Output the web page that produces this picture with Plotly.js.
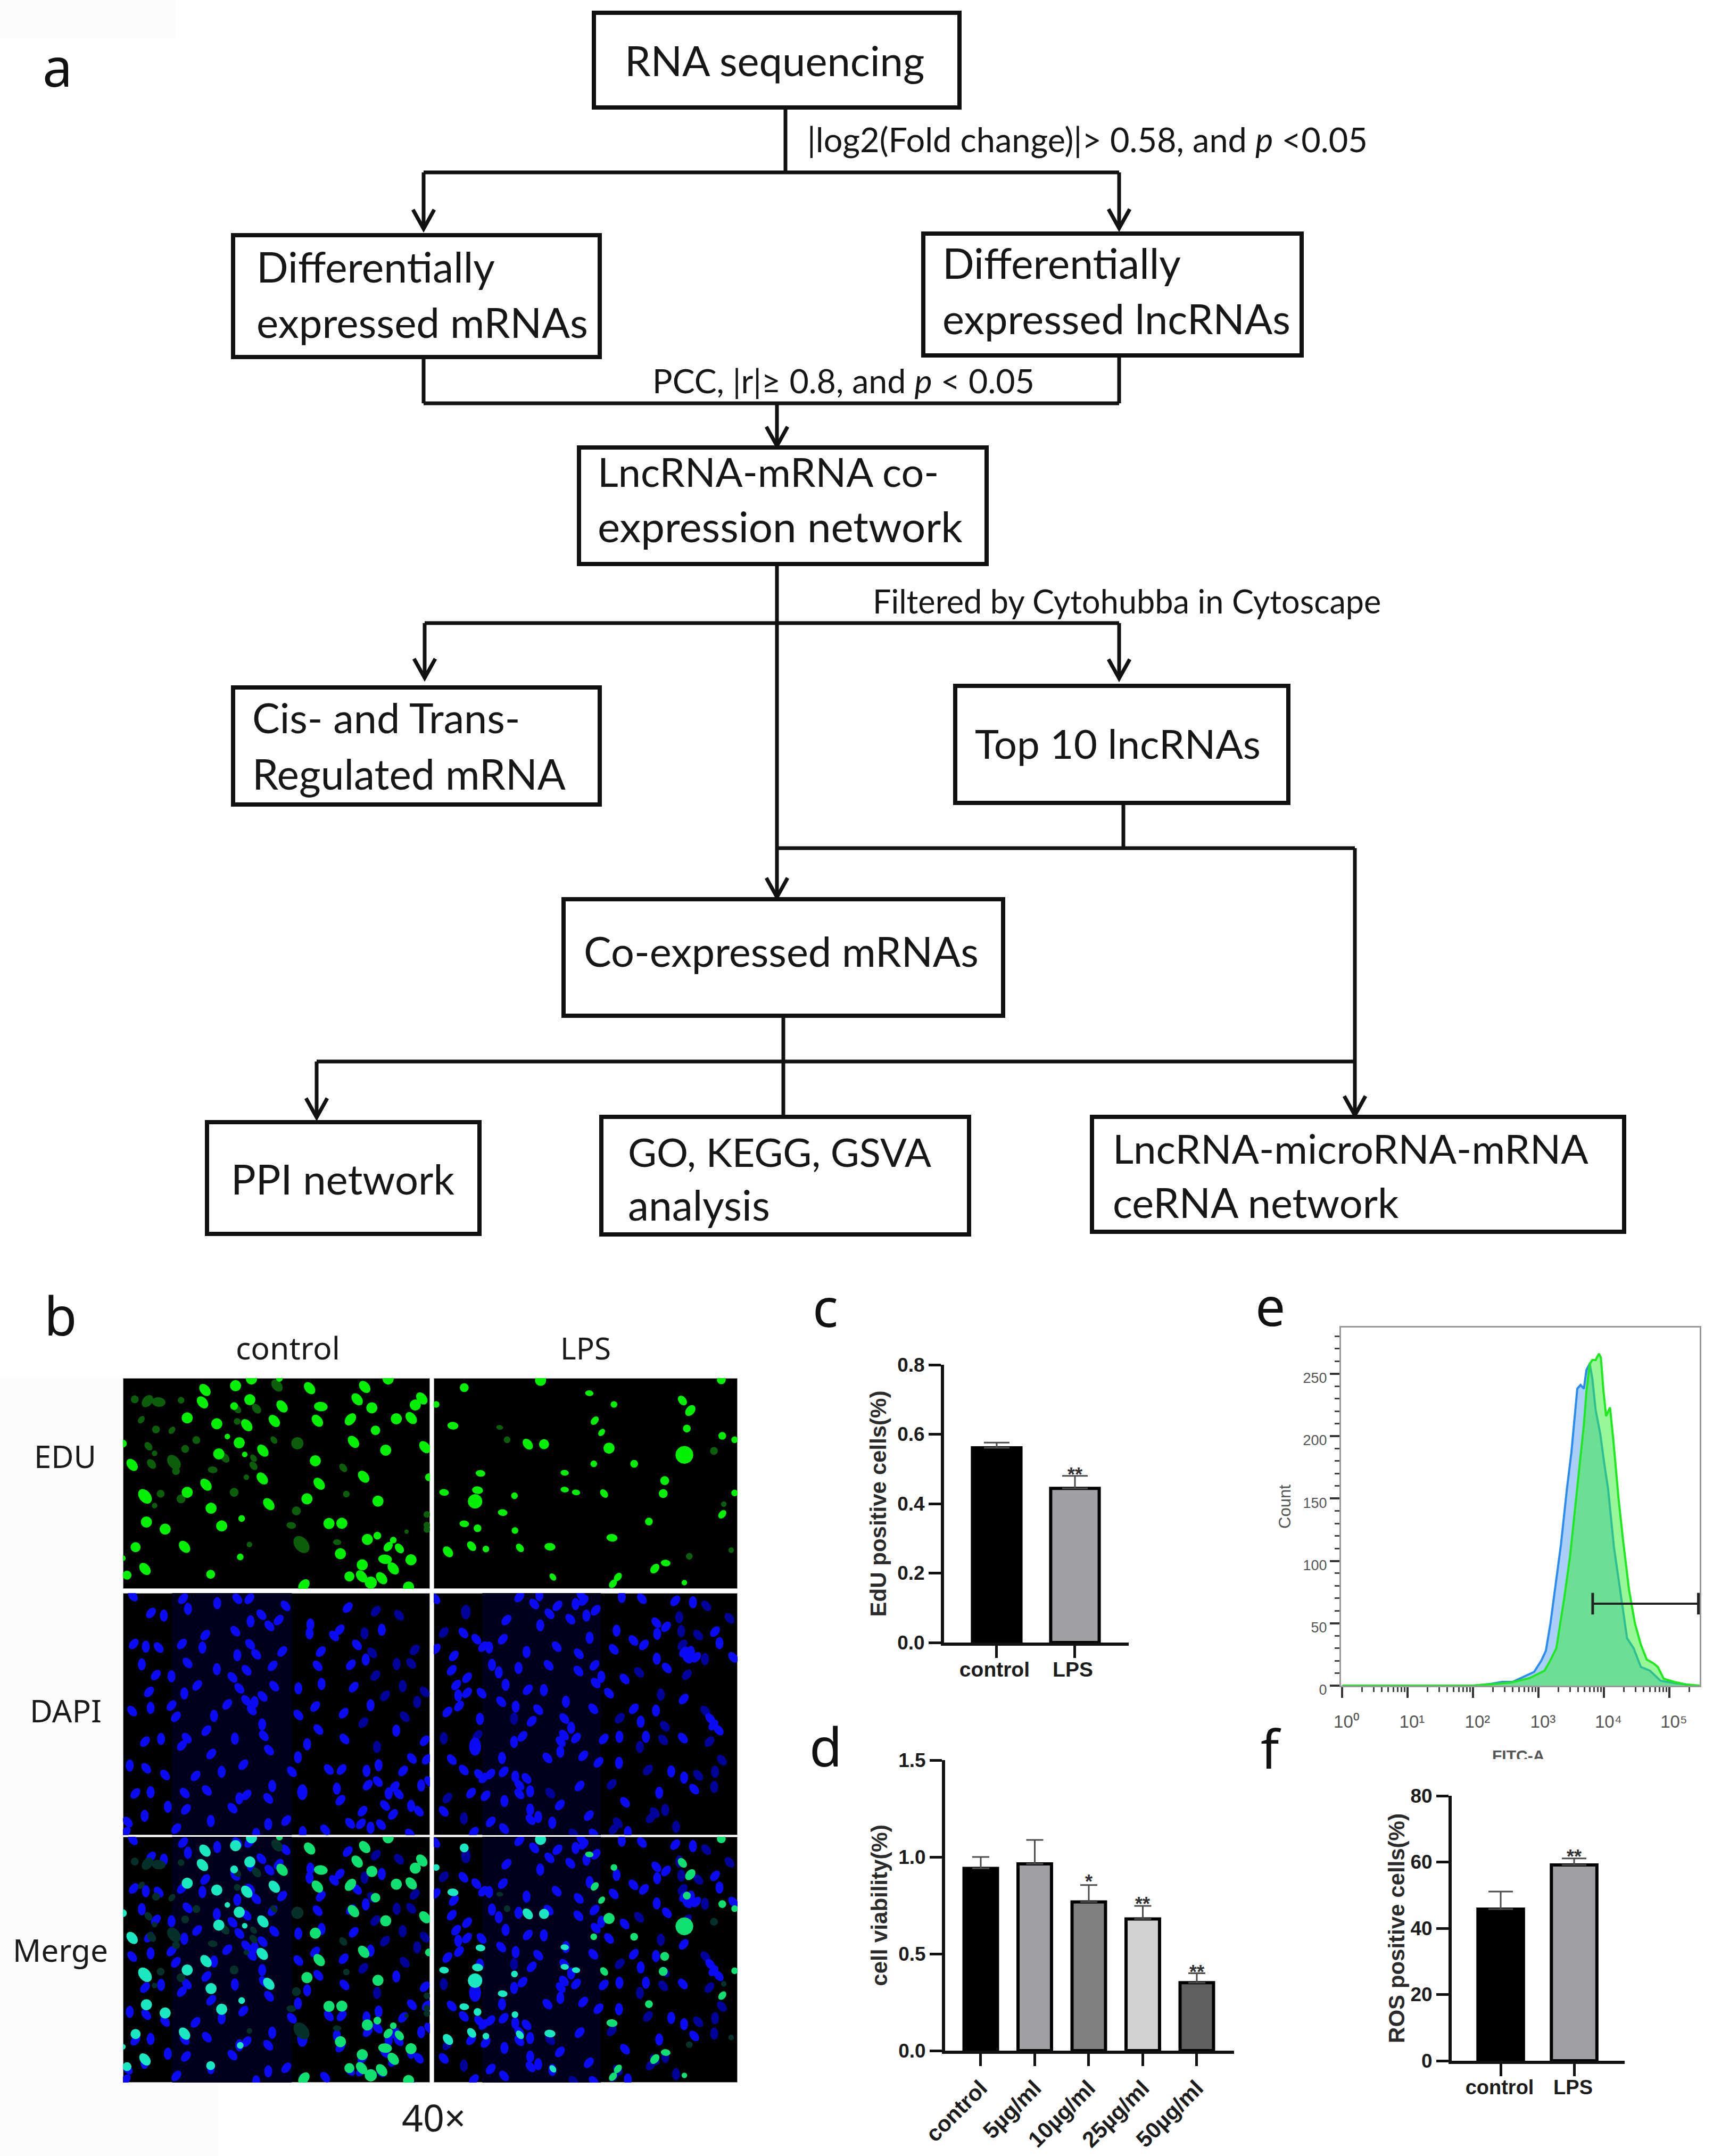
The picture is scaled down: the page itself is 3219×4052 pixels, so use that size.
<!DOCTYPE html>
<html><head><meta charset="utf-8">
<script src="https://cdn.plot.ly/plotly-3.0.1.min.js"></script>
<style>html,body{margin:0;padding:0;background:#fff}#g{width:3219px;height:4052px}</style>
</head><body><div id="g"></div>
<script>
const W=3219,H=4052;
// ---------- data: bar panels ----------
const eduCategories=['control','LPS'];
const eduValues=[0.561,0.444];
const eduErrors=[0.015,0.036];
const viabilityCategories=['control','5µg/ml','10µg/ml','25µg/ml','50µg/ml'];
const viabilityValues=[0.941,0.964,0.768,0.680,0.351];
const viabilityErrors=[0.059,0.124,0.087,0.067,0.049];
const rosCategories=['control','LPS'];
const rosValues=[45.8,59.1];
const rosErrors=[5.3,2.0];
// ---------- data: flow histogram (log10 of FITC-A, count) ----------
const blueLog=[0,2.0,2.28,2.44,2.60,2.76,2.93,3.04,3.11,3.18,3.27,3.34,3.43,3.50,3.59,3.64,3.69,3.73,3.78,3.82,3.87,3.94,4.01,4.06,4.15,4.22,4.29,4.35,4.45,4.56,4.70,4.86,5.07,5.25,5.30,5.46];
const blueCount=[0,0,1.5,3,3,7,11,20,28,50,87,113,157,187,238,241,238,253,258,246,221,202,175,158,111,84,60,38,30,15,12,4,2,1,0,0];
const greenLog=[0,2.0,2.58,2.86,3.09,3.18,3.27,3.39,3.48,3.55,3.62,3.69,3.73,3.78,3.82,3.87,3.92,3.95,3.99,4.03,4.09,4.14,4.22,4.29,4.38,4.47,4.56,4.65,4.75,4.82,4.91,5.07,5.25,5.46];
const greenCount=[0,0,2.5,6,12,20.5,30,70,104,140,174,209,236,258,261,261,266,263,236,216,223,197,150,116,77,50,33,21,18,15,5.6,3,1,0];
const gateLog=[3.825,5.44];
const gateCount=[65.7,65.7];
const fitcMajorLog=[0,1,2,3,4,5];
const fitcTickText=['10⁰','10¹','10²','10³','10⁴','10⁵'];
const countMajor=[0,50,100,150,200,250];
// ---------- data: micrograph nuclei [x,y,tilt,scale] ----------
const eduControlBright=[[432,97,1],[582,73,0],[660,35,0],[797,32,0,.6],[945,87,1],[1215,80,1],[1330,35,0],[1495,145,1],[1463,182,0],[1178,150,1],[1250,198,0],[420,167,1],[652,152,0],[575,188,0,.7],[810,190,1],[1000,191,2],[345,255,0],[490,288,0],[637,296,1],[772,272,1],[983,271,1],[1145,263,-1],[1370,260,0],[1443,256,1],[1268,325,0,.85],[542,360,0,.5],[600,395,0],[30,400,0,.7],[1160,390,1],[716,440,1],[1318,437,0],[1510,420,1],[500,458,0],[627,461,0,.5],[75,520,1],[973,497,0],[1210,587,1],[713,597,1],[1530,590,0,.7],[437,632,1],[992,627,1],[345,675,0],[138,698,1,1.2],[932,712,0],[1280,725,0],[745,742,1],[462,765,0],[612,823,0,.6],[145,843,0],[1040,851,0],[1103,850,0],[514,865,0],[237,883,0],[332,983,1],[92,985,0,.9],[1228,941,0],[1277,920,0,.7],[1355,945,0,.6],[1330,982,-1,.8],[1385,992,1,.8],[1096,1022,0],[1315,1053,2],[1442,1056,0],[605,1040,0,.6],[1203,1085,0],[1355,1105,1],[138,1108,1],[50,1143,0,.8],[460,1138,0,.8],[1140,1150,0,.9],[1200,1150,1],[1245,1185,0,1.1],[1298,1160,1],[917,1200,-1],[1430,1210,0],[30,1047,0,.5]];
const eduControlFaint=[[205,165,2],[150,160,-1],[88,150,0,.7],[315,155,0,.6],[785,72,1],[685,203,1,.8],[590,205,1,.7],[120,265,-1,.6],[192,320,0,.7],[270,325,-1,.6],[590,275,0,.6],[390,380,0,.7],[335,430,0,.7],[885,398,0,1.1],[770,380,1,.6],[155,415,1,.7],[185,455,0,.5],[170,515,1,.8],[280,505,1,1.2],[290,555,0,.7],[530,480,1,.8],[670,525,1,.7],[670,482,1,.6],[470,548,2,.7],[1110,537,1,.7],[635,590,0,.5],[575,675,0,.8],[215,683,0,.7],[315,712,0,.8],[185,750,0,.5],[880,780,0,.8],[855,862,2,.7],[905,970,1,1.4],[1080,957,2,.6],[650,970,0,.5],[1125,685,0,.6],[1520,800,0,.6],[1520,860,0,.6],[1520,885,0,.6],[1420,897,0,.4]];
const eduLpsBright=[[943,197,0,.8],[1098,184,0],[886,227,0,.6],[1197,207,2,.6],[1247,227,0,.6],[1465,183,0,.8],[1386,220,1,.8],[1402,238,-1,.9],[1395,270,0,.7],[1208,256,-1,.7],[1222,277,-1,.6],[1467,283,0,.7],[920,265,2,.8],[1072,298,1,.9],[1105,298,0,.9],[1237,305,0],[1390,317,0,1.6],[1492,290,0,.6],[1288,333,0,.7],[1206,333,0,.6],[976,350,2,.7],[1147,349,2,.6],[1350,363,0,.8],[970,380,2,.8],[1147,379,2,.6],[1170,384,2,.6],[1227,386,1,.7],[1347,386,0,.8],[902,384,2,.7],[1045,390,0,.6],[1492,385,0,.6],[965,400,0,1.3],[1021,420,2,.7],[1318,436,0,.7],[1467,423,-1,.7],[943,440,2,.7],[970,448,0,.7],[1046,452,0,.6],[1243,465,2,.8],[958,480,1,.8],[987,485,0,.6],[910,490,1,.9],[1056,483,1,.7],[1117,481,2,.8],[1330,520,-1,.8],[1352,510,2,.7],[1123,535,1,.6],[1390,545,0,.5],[1255,535,-1,.7],[1245,547,-1,.7]];
const eduLpsFaint=[[1450,310,0,.7],[1400,498,0,.6],[1030,290,0,.6],[1470,405,0,.5],[1485,487,0,.5],[1015,268,2,.5]];
const dapiControlBright=[[40,45],[165,60],[250,85],[300,60],[330,60],[177,117],[420,100],[85,140],[117,155],[360,150],[403,180],[333,187],[380,213],[575,110],[482,205],[295,243],[220,265],[480,255],[541,270],[555,235],[660,235],[598,320],[42,315],[72,330],[104,335],[162,315],[213,335],[332,317],[412,357],[300,378],[347,373],[508,358],[62,430],[176,422],[388,438],[620,403],[500,438],[583,432],[249,457],[323,463],[97,490],[136,497],[288,503],[200,548],[510,540],[392,553],[590,558],[452,565],[305,565],[80,585],[168,594],[363,610],[275,655],[343,643],[322,633],[136,662],[84,675],[38,693],[494,667],[632,660],[336,687],[147,725],[242,720],[452,715],[565,705],[362,768],[502,797],[223,803],[696,803],[366,832],[70,865],[110,850],[174,845],[162,887],[294,848],[567,850],[767,860],[474,880],[379,913],[235,935],[451,953],[735,960],[772,965],[32,1000],[73,1015],[315,995],[652,998],[528,1022],[560,1022],[622,1030],[436,1035],[713,1030],[261,1035],[120,1053],[196,1058],[387,1115],[650,1090],[625,1110],[758,1112],[778,1090],[692,1118],[548,1130],[224,1140],[46,1157],[84,1150],[169,1155],[462,1150,0,1.3],[677,1157],[702,1160],[323,1165],[305,1185],[377,1185],[557,1195],[127,1232],[288,1240],[172,1247],[733,1227],[668,1225],[612,1257],[69,1283],[752,1257],[688,1275],[234,1312],[27,1318],[422,1310],[377,1330],[581,1325],[608,1328],[632,1350],[658,1333],[148,1355],[463,1375],[519,1362],[22,1375],[347,1385],[730,1385]];
const dapiControlFaint=[[703,153],[645,130],[617,255],[636,365],[742,348],[697,428],[733,425],[644,493],[712,552],[767,585],[668,607],[748,642],[717,725],[614,758],[648,895]];
const dapiLpsBright=[[796,60],[1005,50],[1055,40],[1042,90],[1100,100],[1145,90],[1160,45],[1165,70],[1260,50],[1310,60],[1393,72],[1437,80],[1080,145],[1195,125],[1172,155],[1132,175],[973,180],[1057,210],[1346,195],[1370,218],[1247,240],[866,253],[1492,245],[1348,258],[898,288],[964,288],[1180,280],[1289,295],[915,330],[930,335],[1098,330],[1315,320],[1503,310],[1240,345],[797,343],[1023,360],[1153,370],[1415,360],[1432,360],[1537,390],[842,382],[1347,398],[1423,395],[1445,390],[937,432],[1078,435],[1192,435],[1003,450],[1372,450],[837,463],[954,475],[1152,467],[875,505],[1209,500],[1267,512],[848,546],[971,545],[1195,535],[1026,573],[1066,575],[1228,592],[875,590],[853,605],[911,592],[1414,625],[1121,640],[960,640],[855,665],[996,668],[1189,680],[1290,680],[1345,690],[1052,685],[826,698],[907,737],[1117,735],[1036,750],[1307,753],[1480,735],[1488,772],[1134,787],[1501,800],[1013,835],[1254,838],[1116,828],[1146,845],[1320,838],[1412,845],[1215,850],[992,867],[1108,865],[895,893,0,1.5],[1107,922],[1075,957],[1164,945],[962,957],[837,967],[1202,982],[1253,985],[867,1025],[966,1035],[1383,1033],[905,1050],[933,1048],[995,1062],[1023,1072],[916,1070],[1415,1068],[1005,1110],[1155,1115],[1032,1145],[1440,1133],[885,1155],[1353,1153],[1005,1160],[921,1170],[968,1200],[1268,1207],[1106,1222],[1032,1248],[817,1258],[1178,1282],[1052,1290],[1033,1305],[934,1317],[1087,1322],[967,1355],[892,1375],[1275,1375],[1190,1385]];
const dapiLpsFaint=[[1470,100],[872,135,0,1.2],[1403,165],[1528,170],[817,250],[1408,243],[1450,265],[1411,320],[1467,400],[1303,475],[1422,488],[1357,600],[1468,693],[1255,733],[992,735],[1367,778],[901,830],[817,846],[1363,855],[1478,865],[1305,895],[1509,970],[1325,1025],[1492,1035],[1450,1055],[1235,1105],[1490,1120],[1082,1155],[826,1183],[1368,1250],[1342,1265],[1332,1295],[867,1298],[1250,1322],[1240,1358],[1395,1345],[1140,1385]];
// ---------- flowchart text ----------
const flowLabels=['RNA sequencing','|log2(Fold change)|&gt; 0.58, and <i>p</i> &lt;0.05','Differentially','expressed mRNAs','Differentially','expressed lncRNAs','PCC, |r|≥ 0.8, and <i>p</i> &lt; 0.05','LncRNA-mRNA co-','expression network','Filtered by Cytohubba in Cytoscape','Cis- and Trans-','Regulated mRNA','Top 10 lncRNAs','Co-expressed mRNAs','PPI network','GO, KEGG, GSVA','analysis','LncRNA-microRNA-mRNA','ceRNA network'];
const imageLabels=['control','LPS','EDU','DAPI','Merge','40×'];
const panelLetters=['a','b','c','d','e','f'];

// ---------- layout geometry (page pixels) ----------
const flowPlace=[[1173,1739,142],[1516,2571,285],[481,929,530],[481,1104,634],[1770,2218,523],[1770,2424,627],[1225,1945,738],[1122,1766,914],[1122,1808,1018],[1639,2596,1152],[473,979,1377],[473,1062,1483],[1831,2368,1425],[1096,1838,1816],[433,853,2244],[1179,1749,2192],[1179,1446,2293],[2090,2984,2186],[2090,2630,2288]];
const imagePlace=[[442,638,2556],[1052,1147,2556],[63,180,2760],[55,190,3238],[23,202,3688],[754,874,4007]];
const letterPlace=[[79,163],[82,2510],[1526,2494],[1520,3320],[2358,2492],[2368,3324]];
const boxes=[[1115,23,1804,203],[437,441,1128,672],[1734,438,2447,669],[1087,840,1855,1061],[437,1291,1128,1513],[1794,1288,2422,1510],[1058,1689,1886,1910],[388,2108,902,2320],[1129,2098,1822,2321],[2051,2098,3053,2316]];
const segments=[[1476,203,1476,324],[796,324,2103,324],[796,324,796,430],[2103,324,2103,429],[796,672,796,758],[796,758,2103,758],[2103,758,2103,669],[1460,758,1460,838],[1460,1061,1460,1686],[798,1171,2103,1171],[798,1171,798,1274],[2103,1171,2103,1275],[2111,1510,2111,1594],[1460,1594,2546,1594],[2546,1594,2546,2096],[1472,1910,1472,2098],[595,1995,2546,1995],[595,1995,595,2100]];
const arrows=[[796,430],[2103,429],[1460,838],[798,1274],[2103,1275],[1460,1686],[595,2100],[2546,2096]];
const micro=[
 {n:6,px:[231,808,2590,2986],layers:['eduC']},
 {n:7,px:[815,1386,2590,2986],layers:['eduL']},
 {n:8,px:[231,808,2994,3449],layers:['dapiC']},
 {n:9,px:[815,1386,2994,3449],layers:['dapiL']},
 {n:10,px:[231,808,3452,3914],layers:['dapiC','eduC']},
 {n:11,px:[815,1386,3452,3914],layers:['dapiL','eduL']}];
const sources={eduC:[30,1535,30,1220],eduL:[881,1498,180,556],dapiC:[15,780,28,1392],dapiL:[792,1548,28,1392]};

// ---------- helpers ----------
const dom=(a,b)=>[a/W,b/W], domY=(a,b)=>[1-b/H,1-a/H];
const cv=document.createElement('canvas').getContext('2d');
function fitSize(html,width,family,weight){
  const plain=html.replace(/<[^>]+>/g,'').replace(/&lt;/g,'<').replace(/&gt;/g,'>');
  cv.font=(weight||'normal')+' 100px "'+family+'"';
  return 100*width/cv.measureText(plain).width;
}
const annotations=[],shapes=[],data=[];
function placeFit(text,p,family,color,k){
  const size=fitSize(text,p[1]-p[0],family);
  annotations.push({xref:'x',yref:'y',x:p[0],y:p[2]-k*size,xanchor:'left',yanchor:'middle',text:text,showarrow:false,borderpad:0,
    font:{family:family,size:size,color:color}});
}
flowLabels.forEach((t,i)=>placeFit(t,flowPlace[i],'Lato','#161616',0.375));
imageLabels.forEach((t,i)=>placeFit(t,imagePlace[i],'Noto Sans','#1a1a1a',0.41));
panelLetters.forEach((t,i)=>annotations.push({xref:'x',yref:'y',x:letterPlace[i][0],y:letterPlace[i][1]-0.387*100,xanchor:'left',yanchor:'middle',text:t,showarrow:false,borderpad:0,font:{family:'Noto Sans',size:100,color:'#111'}}));
[[0,0,330,72],[0,2590,230,4052],[230,3914,410,4052]].forEach(r=>shapes.push({type:'rect',xref:'x',yref:'y',layer:'below',x0:r[0],y0:r[1],x1:r[2],y1:r[3],fillcolor:'#fcfcff',line:{width:0}}));
const ink={color:'#111',width:7};
boxes.forEach(b=>shapes.push({type:'rect',xref:'x',yref:'y',x0:b[0]+1,y0:b[1]+1,x1:b[2]-1,y1:b[3]-1,line:{color:'#111',width:8},fillcolor:'rgba(0,0,0,0)'}));
segments.forEach(s=>shapes.push({type:'line',xref:'x',yref:'y',x0:s[0],y0:s[1],x1:s[2],y1:s[3],line:ink}));
arrows.forEach(a=>shapes.push({type:'path',xref:'x',yref:'y',path:`M${a[0]-20},${a[1]-36} L${a[0]},${a[1]} L${a[0]+20},${a[1]-36}`,line:ink,fillcolor:'rgba(0,0,0,0)'}));
data.push({type:'scatter',x:[0,W],y:[0,H],mode:'markers',marker:{opacity:0},xaxis:'x',yaxis:'y',hoverinfo:'skip',showlegend:false});

// ---------- micrographs ----------
const tiltAngle={0:0,1:50,'-1':-50,2:6};
const nucleiCycle=[1,-1,0];
function polygons(list,key,pw,ph,base,filter){
  const s=sources[key],xs=[],ys=[];
  list.forEach((n,i)=>{
    const fx=(n[0]-s[0])/(s[1]-s[0]),fy=(n[1]-s[2])/(s[3]-s[2]);
    if(filter&&!filter(fx))return;
    const t=n.length>2?n[2]:nucleiCycle[i%3];
    const k=n.length>3?n[3]:1;
    const th=tiltAngle[t]*Math.PI/180;
    const tall=key.indexOf('dapi')===0&&t===0;
    const aa=(tall?base[1]:(t===0?base[2]:base[0]))*k, bb=(tall?base[0]:(t===0?base[2]:base[1]))*k;
    for(let j=0;j<=16;j++){
      const u=j/16*2*Math.PI,ex=aa*Math.cos(u),ey=bb*Math.sin(u);
      xs.push(fx+(ex*Math.cos(th)-ey*Math.sin(th))/pw);
      ys.push(fy+(ex*Math.sin(th)+ey*Math.cos(th))/ph);
    }
    xs.push(null);ys.push(null);
  });
  return {xs,ys};
}
function blob(list,key,p,base,color,filter){
  const pw=p.px[1]-p.px[0],ph=p.px[3]-p.px[2];
  const g=polygons(list,key,pw,ph,base,filter);
  data.push({type:'scatter',mode:'lines',x:g.xs,y:g.ys,fill:'toself',fillcolor:color,line:{width:0,color:color},xaxis:'x'+p.n,yaxis:'y'+p.n,hoverinfo:'skip',showlegend:false});
}
const edgeBase=[13,9,10.5], dapiBase=[11.5,7.5,9.5];
const layoutAxes={};
micro.forEach(p=>{
  layoutAxes['xaxis'+p.n]={domain:dom(p.px[0],p.px[1]),range:[0,1],visible:false,anchor:'y'+p.n,fixedrange:true};
  layoutAxes['yaxis'+p.n]={domain:domY(p.px[2],p.px[3]),range:[1,0],visible:false,anchor:'x'+p.n,fixedrange:true};
  shapes.push({type:'rect',xref:'x'+p.n,yref:'y'+p.n,layer:'below',x0:0,x1:1,y0:0,y1:1,fillcolor:'#000',line:{color:'#999',width:2}});
  const isDapi=p.layers[0].indexOf('dapi')===0;
  if(isDapi)shapes.push({type:'rect',xref:'x'+p.n,yref:'y'+p.n,layer:'below',x0:.16,x1:.55,y0:0,y1:1,fillcolor:'#00001c',line:{width:0}});
  p.layers.forEach(k=>{
    const merged=p.layers.length>1;
    if(k==='eduC'||k==='eduL'){
      const br=k==='eduC'?eduControlBright:eduLpsBright, fa=k==='eduC'?eduControlFaint:eduLpsFaint;
      blob(fa,k,p,edgeBase,merged?'#06302a':'#0b5f0b');
      if(merged){
        blob(br,k,p,edgeBase,'#1ae8c0',f=>f<0.5);
        blob(br,k,p,edgeBase,'#0fe070',f=>f>=0.5);
      } else blob(br,k,p,edgeBase,'#00f000');
    } else {
      const br=k==='dapiC'?dapiControlBright:dapiLpsBright, fa=k==='dapiC'?dapiControlFaint:dapiLpsFaint;
      blob(fa,k,p,dapiBase,'#00009a');
      blob(br,k,p,dapiBase,'#0a0af6');
    }
  });
});

// ---------- bars ----------
const boldTick={family:'Liberation Sans',size:37,color:'#1c1c1c',weight:700};
const boldTitle={family:'Liberation Sans',size:42,color:'#2a2a2a',weight:700};
const barColors=['#000000','#a0a0a4','#808080','#d2d2d2','#606060'];
function barTrace(cats,vals,errs,n,cap){
  data.push({type:'bar',x:cats.map((_,i)=>i),y:vals,width:0.62,xaxis:'x'+n,yaxis:'y'+n,showlegend:false,hoverinfo:'skip',
    marker:{color:vals.map((_,i)=>barColors[i]),line:{color:'#000',width:6}},
    error_y:{type:'data',symmetric:false,array:errs,arrayminus:errs.map(()=>0),color:'#4c4c4c',thickness:3,width:cap}});
}
barTrace(eduCategories,eduValues,eduErrors,2,24);
barTrace(viabilityCategories,viabilityValues,viabilityErrors,3,16);
barTrace(rosCategories,rosValues,rosErrors,5,23);
function barAxes(n,px,cats,xr,yr,yticks,fmt,title,standoff,tickangle,xfont,xstand,xshift){
  layoutAxes['xaxis'+n]={domain:dom(px[0],px[1]),range:xr,anchor:'y'+n,tickmode:'array',tickvals:cats.map((_,i)=>i),ticktext:cats,
    ticks:'outside',ticklen:23,tickwidth:5,tickcolor:'#111',showline:true,linecolor:'#111',linewidth:6,showgrid:false,zeroline:false,
    tickfont:xfont,tickangle:tickangle,ticklabelstandoff:xstand,ticklabelshift:xshift,fixedrange:true};
  layoutAxes['yaxis'+n]={domain:domY(px[2],px[3]),range:yr,anchor:'x'+n,tickmode:'array',tickvals:yticks,tickformat:fmt,
    ticks:'outside',ticklen:23,tickwidth:5,tickcolor:'#111',showline:true,linecolor:'#111',linewidth:6,showgrid:false,zeroline:false,
    tickfont:boldTick,fixedrange:true,title:{text:title,font:boldTitle,standoff:standoff}};
}
barAxes(2,[1774,2121,2565,3087],eduCategories,[-0.673,1.687],[0,0.8],[0,.2,.4,.6,.8],'.1f','EdU positive cells(%)',9,0,{family:'Liberation Sans',size:39,color:'#1c1c1c',weight:700},-12,-4);
barAxes(3,[1776,2319,3308,3854],viabilityCategories,[-0.66,4.69],[0,1.5],[0,.5,1,1.5],'.1f','cell viability(%)',9,-45,{family:'Liberation Sans',size:42,color:'#1c1c1c',weight:700},0,0);
barAxes(5,[2728,3053,3375,3873],rosCategories,[-0.667,1.688],[0,80],[0,20,40,60,80],'d','ROS positive cells(%)',0,0,{family:'Liberation Sans',size:38,color:'#1c1c1c',weight:700},-12,-2);
const starFont={family:'Liberation Sans',size:36,color:'#333',weight:700};
[[2,1,.498,'**'],[3,2,.897,'*'],[3,3,.782,'**'],[3,4,.431,'**'],[5,1,63.1,'**']].forEach(s=>annotations.push({xref:'x'+s[0],yref:'y'+s[0],x:s[1],y:s[2],yshift:-9,text:s[3],showarrow:false,font:starFont,borderpad:0}));

// ---------- histogram ----------
const pow=a=>a.map(v=>Math.pow(10,v));
data.push({type:'scatter',mode:'lines',x:pow(blueLog),y:blueCount,fill:'tozeroy',fillcolor:'rgba(30,130,240,0.38)',line:{color:'#2a8cf0',width:4},xaxis:'x4',yaxis:'y4',hoverinfo:'skip',showlegend:false});
data.push({type:'scatter',mode:'lines',x:pow(greenLog),y:greenCount,fill:'tozeroy',fillcolor:'rgba(50,240,50,0.5)',line:{color:'#1ee81e',width:4},xaxis:'x4',yaxis:'y4',hoverinfo:'skip',showlegend:false});
data.push({type:'scatter',mode:'lines+markers',x:pow(gateLog),y:gateCount,line:{color:'#222',width:4},marker:{symbol:'line-ns',size:29,line:{color:'#222',width:5}},xaxis:'x4',yaxis:'y4',hoverinfo:'skip',showlegend:false,cliponaxis:false});
const minorX=[],minorY=[];
fitcMajorLog.forEach(d=>{for(let m=2;m<10;m++){const v=m*Math.pow(10,d);if(Math.log10(v)<5.46)minorX.push(v);}});
for(let c=0;c<=280;c+=10){if(c%50)minorY.push(c);}
layoutAxes.xaxis4={domain:dom(2520,3194),type:'log',range:[-0.02,5.46],anchor:'y4',tickmode:'array',tickvals:pow(fitcMajorLog),ticktext:fitcTickText,
  ticks:'outside',ticklen:20,tickwidth:4,tickcolor:'#333',showline:true,mirror:true,linecolor:'#999',linewidth:3,showgrid:false,zeroline:false,tickfont:{family:'Liberation Sans',size:33,color:'#555'},ticklabelstandoff:16,ticklabelshift:8,fixedrange:true,
  minor:{tickmode:'array',tickvals:minorX,ticks:'outside',ticklen:9,tickwidth:3,tickcolor:'#444',showgrid:false}};
layoutAxes.yaxis4={domain:domY(2495,3168),range:[0,287],anchor:'x4',tickmode:'array',tickvals:countMajor,
  ticks:'outside',ticklen:18,tickwidth:4,tickcolor:'#333',showline:true,mirror:true,linecolor:'#999',linewidth:3,showgrid:false,zeroline:false,tickfont:{family:'Liberation Sans',size:27,color:'#555'},ticklabelshift:8,fixedrange:true,
  minor:{tickmode:'array',tickvals:minorY,ticks:'outside',ticklen:9,tickwidth:3,tickcolor:'#444',showgrid:false},
  title:{text:'Count',font:{family:'Liberation Sans',size:31,color:'#555'},standoff:14}};
annotations.push({xref:'x',yref:'y',x:2853,y:3282,xanchor:'center',yanchor:'top',text:'FITC-A',showarrow:false,borderpad:0,height:23,valign:'top',font:{family:'Liberation Sans',size:30,color:'#555',weight:700}});

const layout=Object.assign({width:W,height:H,margin:{l:0,r:0,t:0,b:0},autosize:false,paper_bgcolor:'#fff',plot_bgcolor:'rgba(0,0,0,0)',showlegend:false,bargap:0.3,
  xaxis:{domain:[0,1],range:[0,W],visible:false,fixedrange:true,anchor:'y'},
  yaxis:{domain:[0,1],range:[H,0],visible:false,fixedrange:true,anchor:'x'},
  annotations:annotations,shapes:shapes},layoutAxes);
Plotly.newPlot('g',data,layout,{staticPlot:true,displayModeBar:false});
</script></body></html>
